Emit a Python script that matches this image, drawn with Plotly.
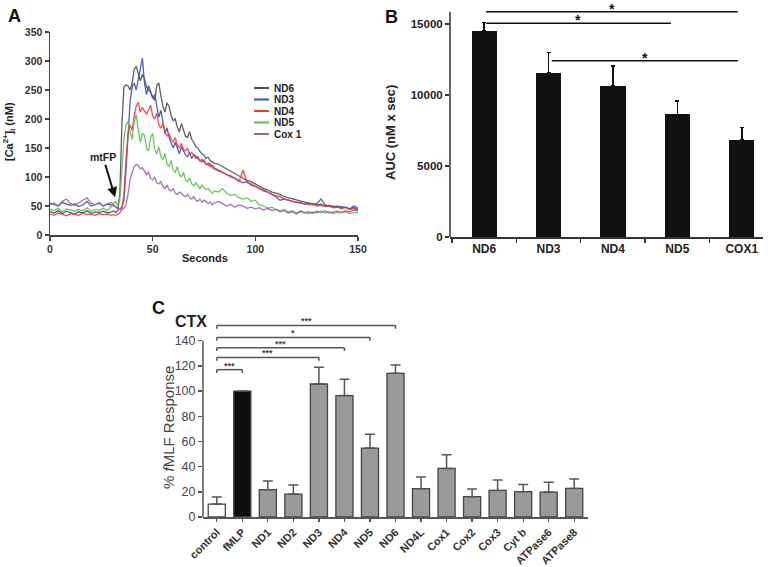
import plotly.graph_objects as go

# ---------------- Panel A data: [Ca2+]i traces ----------------
T_SEC = [0, 2, 4, 6, 8, 10, 12, 14, 16, 18, 20, 22, 24, 26, 28, 30,
         31, 32, 33, 34, 35, 36, 37, 38, 39, 40, 41, 42, 43, 44, 45, 46, 47, 48, 49, 50,
         51, 52, 53, 54, 55, 56, 57, 58, 59, 60, 61, 62, 63, 64, 65, 66, 67, 68, 69, 70,
         71, 72, 73, 74, 75, 76, 77, 78, 79, 80,
         82, 84, 86, 88, 90, 92, 94, 96, 98, 100, 102, 104, 106, 108, 110, 112, 114, 116,
         118, 120, 122, 124, 126, 128, 130, 132, 134, 136, 138, 140, 142, 144, 146, 148, 150]

ND6 = [40, 38, 42, 37, 41, 39, 36, 40, 38, 42, 37, 40, 39, 41, 38, 40,
       41, 39, 42, 70, 190, 255, 259, 257, 250, 262,
       285, 291, 278, 266, 277, 270, 255, 250, 246, 238,
       232, 258, 262, 240, 222, 212, 228, 222, 205, 197,
       200, 186, 178, 192, 182, 170, 168, 178, 165, 160,
       152, 150, 144, 140, 138, 132, 134, 128, 126, 124,
       122, 118, 115, 110, 106, 102, 98, 94, 92, 88, 84, 80, 78, 74, 72, 70, 66, 64,
       62, 60, 58, 56, 55, 54, 52, 53, 50, 51, 49, 48, 49, 47, 45, 47, 44]

ND3 = [55, 52, 50, 56, 53, 51, 54, 49, 52, 58, 50, 52, 55, 50, 53, 52,
       50, 48, 46, 45, 48, 60, 110, 170, 230, 255,
       262, 250, 270, 290, 305, 262, 242, 258, 245, 236,
       242, 222, 203, 215, 198, 175, 185, 168, 158, 150,
       160, 148, 140, 152, 145, 138, 135, 142, 132, 138,
       136, 132, 128, 130, 126, 122, 124, 118, 120, 116,
       112, 108, 104, 102, 98, 95, 90, 92, 86, 84, 80, 76, 74, 70, 66, 60, 62, 60,
       58, 56, 56, 53, 55, 52, 54, 62, 52, 50, 48, 50, 47, 48, 45, 50, 46]

ND4 = [36, 34, 38, 35, 33, 37, 36, 34, 38, 35, 36, 34, 37, 35, 36, 34,
       35, 34, 36, 38, 45, 70, 130, 175, 190, 180,
       205, 222, 229, 212, 220, 214, 208, 215, 224, 205,
       200, 210, 190, 184, 192, 178, 170, 175, 165, 160,
       168, 155, 150, 158, 148, 145, 150, 140, 142, 138,
       132, 135, 128, 126, 130, 122, 120, 124, 116, 114,
       110, 108, 104, 100, 98, 92, 112, 90, 88, 84, 80, 78, 74, 70, 68, 66, 62, 60,
       58, 56, 55, 54, 52, 53, 50, 51, 49, 50, 47, 48, 45, 48, 44, 46, 42]

ND5 = [44, 42, 46, 40, 45, 43, 41, 44, 42, 47, 41, 44, 43, 46, 42, 50,
       55, 58, 52, 60, 110, 165, 190, 196, 178, 165,
       195, 207, 180, 160, 175, 172, 150, 145, 168, 175,
       148, 140, 152, 135, 130, 140, 122, 118, 128, 112,
       108, 118, 105, 100, 108, 95, 92, 98, 88, 85,
       90, 84, 80, 86, 82, 78, 80, 75, 72, 76,
       74, 80, 72, 68, 70, 64, 62, 64, 58, 60, 52, 50, 46, 48, 44, 42, 44, 40,
       42, 38, 40, 39, 37, 40, 38, 41, 38, 40, 37, 39, 38, 40, 37, 39, 38]

COX1_TRACE = [52, 55, 50, 58, 62, 54, 51, 56, 60, 64, 55, 52, 56, 50, 54, 56,
              52, 48, 46, 45, 44, 46, 52, 70, 95, 108,
              118, 122, 120, 114, 116, 110, 104, 108, 98, 95,
              100, 90, 88, 92, 84, 80, 86, 78, 76, 80,
              72, 70, 74, 72, 68, 66, 70, 64, 62, 66,
              60, 58, 62, 56, 60, 58, 54, 57, 52, 55,
              58, 54, 50, 53, 48, 52, 50, 46, 48, 45, 47, 43, 46, 42, 44, 40, 42, 38,
              40, 36, 42, 38, 40, 37, 41, 39, 42, 38, 40, 41, 39, 42, 40, 43, 41]

A_NAMES = ["ND6", "ND3", "ND4", "ND5", "Cox 1"]
A_COLORS = ["#4d4d4d", "#3f4fb5", "#ee3a3a", "#5cbf4a", "#9d5fb0"]

# ---------------- Panel B data: AUC ----------------
B_CATS = ["ND6", "ND3", "ND4", "ND5", "COX1"]
B_AUC = [14500, 11550, 10650, 8630, 6830]
B_ERR = [600, 1450, 1400, 950, 870]

# ---------------- Panel C data: % fMLF response ----------------
C_CATS = ["control", "fMLP", "ND1", "ND2", "ND3", "ND4", "ND5", "ND6", "ND4L",
          "Cox1", "Cox2", "Cox3", "Cyt b", "ATPase6", "ATPase8"]
C_VALS = [10.3, 100, 21.7, 18.2, 105.6, 96.4, 54.7, 114.1, 22.5, 38.6, 16.1, 21.1, 20.1, 19.8, 22.7]
C_ERR = [5.5, 0, 6.8, 7.2, 13.3, 13.0, 11.1, 6.6, 9.2, 10.8, 6.1, 8.2, 5.8, 7.7, 7.4]
C_COLORS = ["#ffffff", "#0d0d0d"] + ["#9a9a9a"] * 13

W, H = 777, 567
FONT = "Liberation Sans, Arial, sans-serif"


def fx(px):
    return px / W


def fy(py):
    return 1 - py / H


fig = go.Figure()

# Panel A traces
for name, vals, col in zip(A_NAMES, [ND6, ND3, ND4, ND5, COX1_TRACE], A_COLORS):
    fig.add_trace(go.Scatter(x=T_SEC, y=vals, mode="lines", name=name,
                             line=dict(color=col, width=1.3), opacity=0.9,
                             xaxis="x", yaxis="y", showlegend=False))

# Panel B bars
fig.add_trace(go.Bar(x=B_CATS, y=B_AUC, width=0.39,
                     marker=dict(color="#111111", line=dict(width=0)),
                     error_y=dict(type="data", array=B_ERR, arrayminus=[0] * len(B_ERR),
                                  symmetric=False, color="#111111", thickness=1.5, width=2),
                     xaxis="x2", yaxis="y2", showlegend=False))

# Panel C bars
fig.add_trace(go.Bar(x=C_CATS, y=C_VALS, width=0.67,
                     marker=dict(color=C_COLORS, line=dict(color="#444444", width=1.3)),
                     error_y=dict(type="data", array=C_ERR, arrayminus=[0] * len(C_ERR),
                                  symmetric=False, color="#555555", thickness=1.5, width=5),
                     xaxis="x3", yaxis="y3", showlegend=False))

boldA = dict(family=FONT, size=10.5, color="#333333", weight="bold")
boldB = dict(family=FONT, size=12, color="#222222", weight="bold")

layout = dict(
    width=W, height=H, margin=dict(l=0, r=0, t=0, b=0, autoexpand=False),
    paper_bgcolor="white", plot_bgcolor="white", showlegend=False,
    font=dict(family=FONT),
    bargap=0,
    xaxis=dict(domain=[fx(50), fx(358)], range=[0, 150], tickvals=[0, 50, 100, 150],
               ticks="outside", ticklen=4, tickwidth=1.5, tickcolor="#444",
               showline=True, linecolor="#444", linewidth=1.5, showgrid=False,
               zeroline=False, tickfont=boldA, anchor="y", automargin=False),
    yaxis=dict(domain=[fy(235), fy(32)], range=[0, 350], dtick=50,
               ticks="outside", ticklen=4, tickwidth=1.5, tickcolor="#444",
               showline=True, linecolor="#444", linewidth=1.5, showgrid=False,
               zeroline=False, tickfont=boldA, anchor="x", automargin=False),
    xaxis2=dict(domain=[fx(450), fx(763)], type="category", range=[-0.53, 4.33],
                tickson="boundaries", ticks="outside", ticklen=4, tickwidth=1.5,
                tickcolor="#333", showline=True, linecolor="#333", linewidth=1.5,
                showgrid=False, zeroline=False, tickfont=boldB, anchor="y2",
                automargin=False),
    yaxis2=dict(domain=[fy(237), fy(2.7)], range=[0, 16500],
                tickvals=[0, 5000, 10000, 15000], tickformat="d", ticks="outside", ticklen=4,
                tickwidth=1.5, tickcolor="#333", showline=False, showgrid=False,
                zeroline=False, tickfont=dict(family=FONT, size=11.5, color="#222", weight="bold"),
                anchor="x2", automargin=False),
    xaxis3=dict(domain=[fx(203), fx(588)], type="category", range=[-0.54, 14.54],
                tickangle=-45, ticks="outside", ticklen=3, tickwidth=1.2, tickcolor="#555",
                showline=True, linecolor="#555", linewidth=1.5, showgrid=False,
                zeroline=False, tickfont=dict(family=FONT, size=11, color="#333", weight="bold"),
                anchor="y3", automargin=False),
    yaxis3=dict(domain=[fy(517), fy(517 - 158 * 1.2593)], range=[0, 158],
                tickvals=[0, 20, 40, 60, 80, 100, 120, 140], ticks="outside", ticklen=4,
                tickwidth=1.5, tickcolor="#555", showline=False, showgrid=False,
                zeroline=False, tickfont=dict(family=FONT, size=12.5, color="#444"),
                anchor="x3", automargin=False),
)
fig.update_layout(**layout)

shapes = []
annotations = []

# manual y-axis lines for B and C (stop at top tick / bracket level)
shapes.append(dict(type="line", xref="x2 domain", yref="y2", x0=0, x1=0, y0=0, y1=15870,
                   line=dict(color="#333", width=1.5)))
shapes.append(dict(type="line", xref="x3 domain", yref="y3", x0=0, x1=0, y0=0, y1=140,
                   line=dict(color="#555", width=1.5)))

# Panel A legend (custom)
leg_rows = [88, 99.5, 111, 122.5, 134]
for name, col, ry in zip(A_NAMES, A_COLORS, leg_rows):
    shapes.append(dict(type="line", xref="paper", yref="paper", x0=fx(254), x1=fx(269),
                       y0=fy(ry), y1=fy(ry), line=dict(color=col, width=2)))
    annotations.append(dict(x=fx(272), y=fy(ry), xref="paper", yref="paper", text=name,
                            showarrow=False, xanchor="left", yanchor="middle",
                            font=dict(family=FONT, size=10, color="#222", weight="bold")))

# mtFP arrow
annotations.append(dict(x=31.7, y=65, xref="x", yref="y", text="mtFP", showarrow=True,
                        ax=-12, ay=-40, arrowhead=2, arrowsize=1, arrowwidth=2,
                        arrowcolor="#111", standoff=0,
                        font=dict(family=FONT, size=10.5, color="#222", weight="bold")))

# Panel B significance lines
B_SIG = [(0.03, 3.94, 15870), (0.03, 2.9, 15050), (1.05, 3.94, 12420)]
for x0, x1, yv in B_SIG:
    shapes.append(dict(type="line", xref="x2", yref="y2", x0=x0, x1=x1, y0=yv, y1=yv,
                       line=dict(color="#111", width=1.5)))
    annotations.append(dict(x=(x0 + x1) / 2, y=yv, xref="x2", yref="y2", text="*",
                            showarrow=False, xanchor="center", yanchor="bottom", yshift=-7,
                            font=dict(family=FONT, size=14, color="#111", weight="bold")))

# Panel C brackets
C_SIG = [(0, 1, 117, "***"), (0, 4, 126.7, "***"), (0, 5, 134.4, "***"),
         (0, 6, 142.6, "*"), (0, 7, 152.1, "***")]
for i, j, yv, lab in C_SIG:
    shapes.append(dict(type="line", xref="x3", yref="y3", x0=i, x1=j, y0=yv, y1=yv,
                       line=dict(color="#555", width=1.5)))
    for xx in (i, j):
        shapes.append(dict(type="line", xref="x3", yref="y3", x0=xx, x1=xx, y0=yv,
                           y1=yv - 2.6, line=dict(color="#555", width=1.5)))
    annotations.append(dict(x=(i + j) / 2, y=yv, xref="x3", yref="y3", text=lab,
                            showarrow=False, xanchor="center", yanchor="bottom", yshift=-3,
                            font=dict(family=FONT, size=9, color="#444", weight="bold")))


def label(px, py, text, size, color="#222", bold=True, angle=0):
    f = dict(family=FONT, size=size, color=color)
    if bold:
        f["weight"] = "bold"
    return dict(x=fx(px), y=fy(py), xref="paper", yref="paper", text=text,
                showarrow=False, xanchor="center", yanchor="middle", textangle=angle,
                font=f)


annotations += [
    label(14, 16, "A", 18, "#111"),
    label(392, 17, "B", 18, "#111"),
    label(158, 308, "C", 18, "#111"),
    label(191, 321, "CTX", 16, "#222"),
    label(9, 132, "[Ca<sup>2+</sup>]<sub>i</sub> (nM)", 11, angle=-90),
    label(205, 258, "Seconds", 11),
    label(391, 133, "AUC (nM x sec)", 13, angle=-90),
    label(168, 428, "% <i>f</i>MLF Response", 15, "#444", bold=False, angle=-90),
]

fig.update_layout(shapes=shapes, annotations=annotations)
fig.write_html("out.html", config={"displayModeBar": False, "staticPlot": True},
               post_script="document.body.style.margin='0px';document.body.style.padding='0px';")
